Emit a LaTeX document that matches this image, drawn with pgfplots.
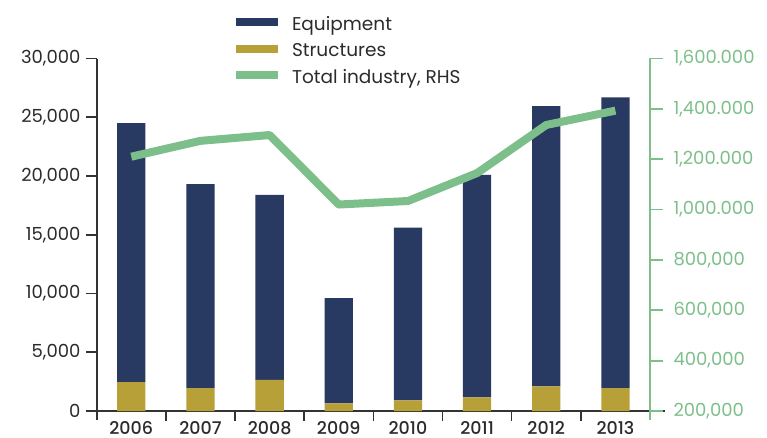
\documentclass[border=0pt]{standalone}
\usepackage{fontspec}
\setmainfont{Poppins}
\newfontfamily\yearfont{Poppins Medium}
\usepackage{pgfplots}
\pgfplotsset{compat=1.18}
\definecolor{navy}{HTML}{283A61}
\definecolor{gold}{HTML}{B8A038}
\definecolor{lgreen}{HTML}{7DBF8A}
\definecolor{axgray}{HTML}{333333}
\definecolor{txt}{HTML}{2B2B2B}
\begin{document}
\begin{tikzpicture}
\begin{axis}[
  name=ax1,
  scale only axis, width=553.3pt, height=352.5pt,
  xmin=-0.5, xmax=7.5, ymin=0, ymax=30000,
  ybar stacked, bar width=28.3pt,
  axis x line*=bottom, axis y line*=left,
  x axis line style={-, draw=axgray, line width=2.4pt, shorten <=-10.7pt, shorten >=-15pt},
  y axis line style={-, draw=axgray, line width=2.2pt, shorten <=-9pt},
  xtick={0,...,7},
  xticklabels={2006,2007,2008,2009,2010,2011,2012,2013},
  minor xtick={0.5,1.5,...,6.5},
  major x tick style={draw=none},
  minor x tick style={draw=axgray, line width=1.5pt},
  minor tick length=10pt,
  ytick={0,5000,...,30000},
  scaled y ticks=false,
  y tick style={draw=axgray, line width=1.8pt},
  major tick length=10.7pt,
  tick align=outside,
  /pgf/number format/assume math mode=true,
  /pgf/number format/.cd, 1000 sep={,}, /pgfplots/.cd,
  y tick label style={font=\fontsize{18}{20}\selectfont, color=txt, xshift=-2pt},
  x tick label style={font=\yearfont\fontsize{17.5}{20}\selectfont, color=txt, yshift=3.5pt, text depth=0pt},
  legend style={at={(0,1)}, anchor=north west, xshift=135.5pt, yshift=42pt,
    draw=none, fill=none, inner sep=0pt, row sep=8.5pt,
    font=\fontsize{18.5}{21}\selectfont,
    nodes={inner sep=0pt, text height=13.5pt, text depth=4.5pt, text=txt},
    /tikz/every odd column/.append style={column sep=10pt}},
  legend cell align=left,
  legend entries={Equipment, Structures, {Total industry, RHS}},
]
\addlegendimage{legend image code/.code={\draw[line width=8pt, navy] (0pt,0.35em) -- (41.6pt,0.35em);}}
\addlegendimage{legend image code/.code={\draw[line width=8pt, gold] (0pt,0.35em) -- (41.6pt,0.35em);}}
\addlegendimage{legend image code/.code={\draw[line width=8pt, lgreen] (0pt,0.35em) -- (41.6pt,0.35em);}}
\addplot[fill=gold, draw=none] coordinates {(0,2450) (1,1950) (2,2650) (3,650) (4,900) (5,1150) (6,2100) (7,1950)};
\addplot[fill=navy, draw=none] coordinates {(0,22050) (1,17350) (2,15750) (3,8950) (4,14700) (5,18950) (6,23850) (7,24750)};
\end{axis}
\begin{axis}[
  name=ax2,
  scale only axis, width=553.3pt, height=352.5pt,
  xmin=-0.5, xmax=7.5, ymin=200000, ymax=1600000,
  axis x line=none, axis y line*=right,
  y axis line style={-, draw=lgreen, line width=2.6pt, shorten <=-9pt},
  ytick={200000,400000,...,1600000},
  scaled y ticks=false,
  yticklabels={{200,000},{400,000},{600,000},{800,000},{1,000.000},{1,200.000},{1,400.000},{1,600.000}},
  y tick style={draw=lgreen, line width=1.8pt},
  major tick length=13pt,
  tick align=outside,
  y tick label style={font=\fontsize{18}{20}\selectfont, color=lgreen, xshift=7pt},
]
\addplot[lgreen, line width=8pt, line join=round] coordinates {(0,1210000) (1,1273000) (2,1296000) (3,1020000) (4,1034000) (5,1145000) (6,1336000) (7,1393000)};
\end{axis}
\pgfresetboundingbox
\path[use as bounding box] ([xshift=-96.7pt,yshift=-26pt]ax1.south west) rectangle ++(767pt,437pt);
\end{tikzpicture}
\end{document}
